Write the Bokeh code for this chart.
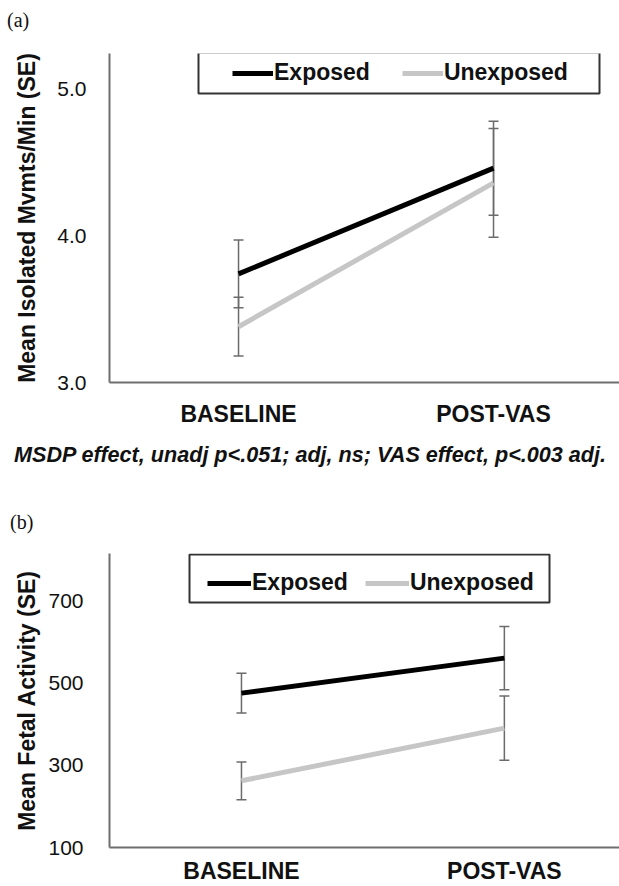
import html
from bokeh.plotting import figure
from bokeh.models import (Range1d, FixedTicker, Whisker, TeeHead, ColumnDataSource,
                          Legend, LegendItem, BoxAnnotation, PrintfTickFormatter, Div)
from bokeh.layouts import column
from bokeh.embed import file_html
from bokeh.resources import INLINE

# ---------------- data ----------------
categories = ["BASELINE", "POST-VAS"]

a_exposed = [3.74, 4.46]
a_exposed_se = [0.23, 0.32]
a_unexposed = [3.38, 4.36]
a_unexposed_se = [0.20, 0.37]
a_yticks = [3.0, 4.0, 5.0]

b_exposed = [475, 560]
b_exposed_se = [48, 77]
b_unexposed = [262, 390]
b_unexposed_se = [46, 78]
b_yticks = [100, 300, 500, 700]

series_names = ["Exposed", "Unexposed"]
caption_a = "MSDP effect, unadj p<.051; adj, ns; VAS effect, p<.003 adj."
tag_a = "(a)"
tag_b = "(b)"

FONT = "Liberation Sans"
AXIS_GRAY = "#6e6e6e"
ERR_GRAY = "#6b6b6b"
EXP_COLOR = "#000000"
UNEXP_COLOR = "#c6c6c6"
TXT = "#111111"
W = 619


def make_panel(ylabel, exp, exp_se, unexp, unexp_se, yrange, yticks, yfmt,
               xrange, border_left, border_top, frame_h, border_bottom, xstandoff,
               ystandoff, ylab_standoff, legend_loc, legend_spacing, glyph_w, box):
    xs = list(range(len(categories)))
    p = figure(width=W, height=border_top + frame_h + border_bottom,
               x_range=Range1d(*xrange), y_range=Range1d(*yrange),
               output_backend="svg", toolbar_location=None,
               min_border_left=border_left, min_border_right=0,
               min_border_top=border_top, min_border_bottom=border_bottom)
    p.outline_line_color = None
    p.grid.visible = False

    # x axis
    xa = p.xaxis[0]
    xa.ticker = FixedTicker(ticks=xs)
    xa.major_label_overrides = {i: c for i, c in zip(xs, categories)}
    xa.axis_line_color = AXIS_GRAY
    xa.axis_line_width = 2
    xa.major_tick_line_color = None
    xa.minor_tick_line_color = None
    xa.major_label_standoff = xstandoff
    xa.major_label_text_font = FONT
    xa.major_label_text_font_size = "23px"
    xa.major_label_text_font_style = "bold"
    xa.major_label_text_color = TXT

    # y axis
    ya = p.yaxis[0]
    ya.ticker = FixedTicker(ticks=yticks)
    ya.formatter = PrintfTickFormatter(format=yfmt)
    ya.axis_line_color = AXIS_GRAY
    ya.axis_line_width = 2
    ya.major_tick_line_color = None
    ya.minor_tick_line_color = None
    ya.major_label_standoff = ystandoff
    ya.major_label_text_font = FONT
    ya.major_label_text_font_size = "21px"
    ya.major_label_text_color = TXT
    ya.axis_label = ylabel
    ya.axis_label_text_font = FONT
    ya.axis_label_text_font_size = "23px"
    ya.axis_label_text_font_style = "bold"
    ya.axis_label_text_color = TXT
    ya.axis_label_standoff = ylab_standoff

    # error bars
    for vals, se in ((exp, exp_se), (unexp, unexp_se)):
        src = ColumnDataSource(dict(
            x=xs,
            upper=[v + s for v, s in zip(vals, se)],
            lower=[v - s for v, s in zip(vals, se)]))
        p.add_layout(Whisker(
            source=src, base="x", upper="upper", lower="lower",
            dimension="height", line_color=ERR_GRAY, line_width=1.5,
            upper_head=TeeHead(size=10, line_color=ERR_GRAY, line_width=1.5),
            lower_head=TeeHead(size=10, line_color=ERR_GRAY, line_width=1.5)))

    r_exp = p.line(xs, exp, line_color=EXP_COLOR, line_width=5)
    r_unexp = p.line(xs, unexp, line_color=UNEXP_COLOR, line_width=5)

    # legend frame
    bl, br, bb, bt = box
    p.add_layout(BoxAnnotation(left=bl, right=br, bottom=bb, top=bt,
                               left_units="screen", right_units="screen",
                               bottom_units="screen", top_units="screen",
                               fill_color=None, fill_alpha=0,
                               line_color="#333333", line_alpha=1.0, line_width=2))

    legend = Legend(items=[LegendItem(label=series_names[0], renderers=[r_exp]),
                           LegendItem(label=series_names[1], renderers=[r_unexp])],
                    orientation="horizontal", location=legend_loc,
                    border_line_color=None, background_fill_alpha=0,
                    padding=0, margin=0, spacing=legend_spacing,
                    glyph_width=glyph_w, glyph_height=20, label_height=20,
                    label_standoff=1, label_text_font=FONT,
                    label_text_font_size="23px", label_text_font_style="bold",
                    label_text_color=TXT)
    p.add_layout(legend)
    return p


def tag_html(text, pad_left, height, top=0):
    return ('<div style="font-family:\'Liberation Serif\';font-size:20px;'
            f'line-height:{height}px;height:{height}px;margin-top:{top}px;'
            f'padding-left:{pad_left}px;color:{TXT};white-space:nowrap;">'
            f'{html.escape(text)}</div>')


div_a = Div(text=tag_html(tag_a, 7, 40), width=W, height=40, margin=0)

pa = make_panel("Mean Isolated Mvmts/Min (SE)", a_exposed, a_exposed_se,
                a_unexposed, a_unexposed_se, (3.0, 5.241), a_yticks, "%.1f",
                (-0.506, 1.494), 109, 13, 331, 45, 12, 17, 14,
                (123, 296), 32, 41, (89, 490, 289, 330))

caption_html = ('<div style="font-family:\'Liberation Sans\';font-size:21.6px;'
                'font-weight:bold;font-style:italic;line-height:52px;height:52px;'
                f'padding-left:14px;white-space:nowrap;color:{TXT};">'
                f'{html.escape(caption_a)}</div>' + tag_html(tag_b, 10, 40, top=21))
div_mid = Div(text=caption_html, width=W, height=113, margin=0)

pb = make_panel("Mean Fetal Activity (SE)", b_exposed, b_exposed_se,
                b_unexposed, b_unexposed_se, (100, 814.2), b_yticks, "%d",
                (-0.502, 1.438), 105, 11, 294, 39, 4, 20, 5,
                (98, 251), 17, 44, (80, 440, 245, 293))

layout = column(div_a, pa, div_mid, pb, spacing=0)

with open("out.html", "w") as f:
    f.write(file_html(layout, INLINE))
